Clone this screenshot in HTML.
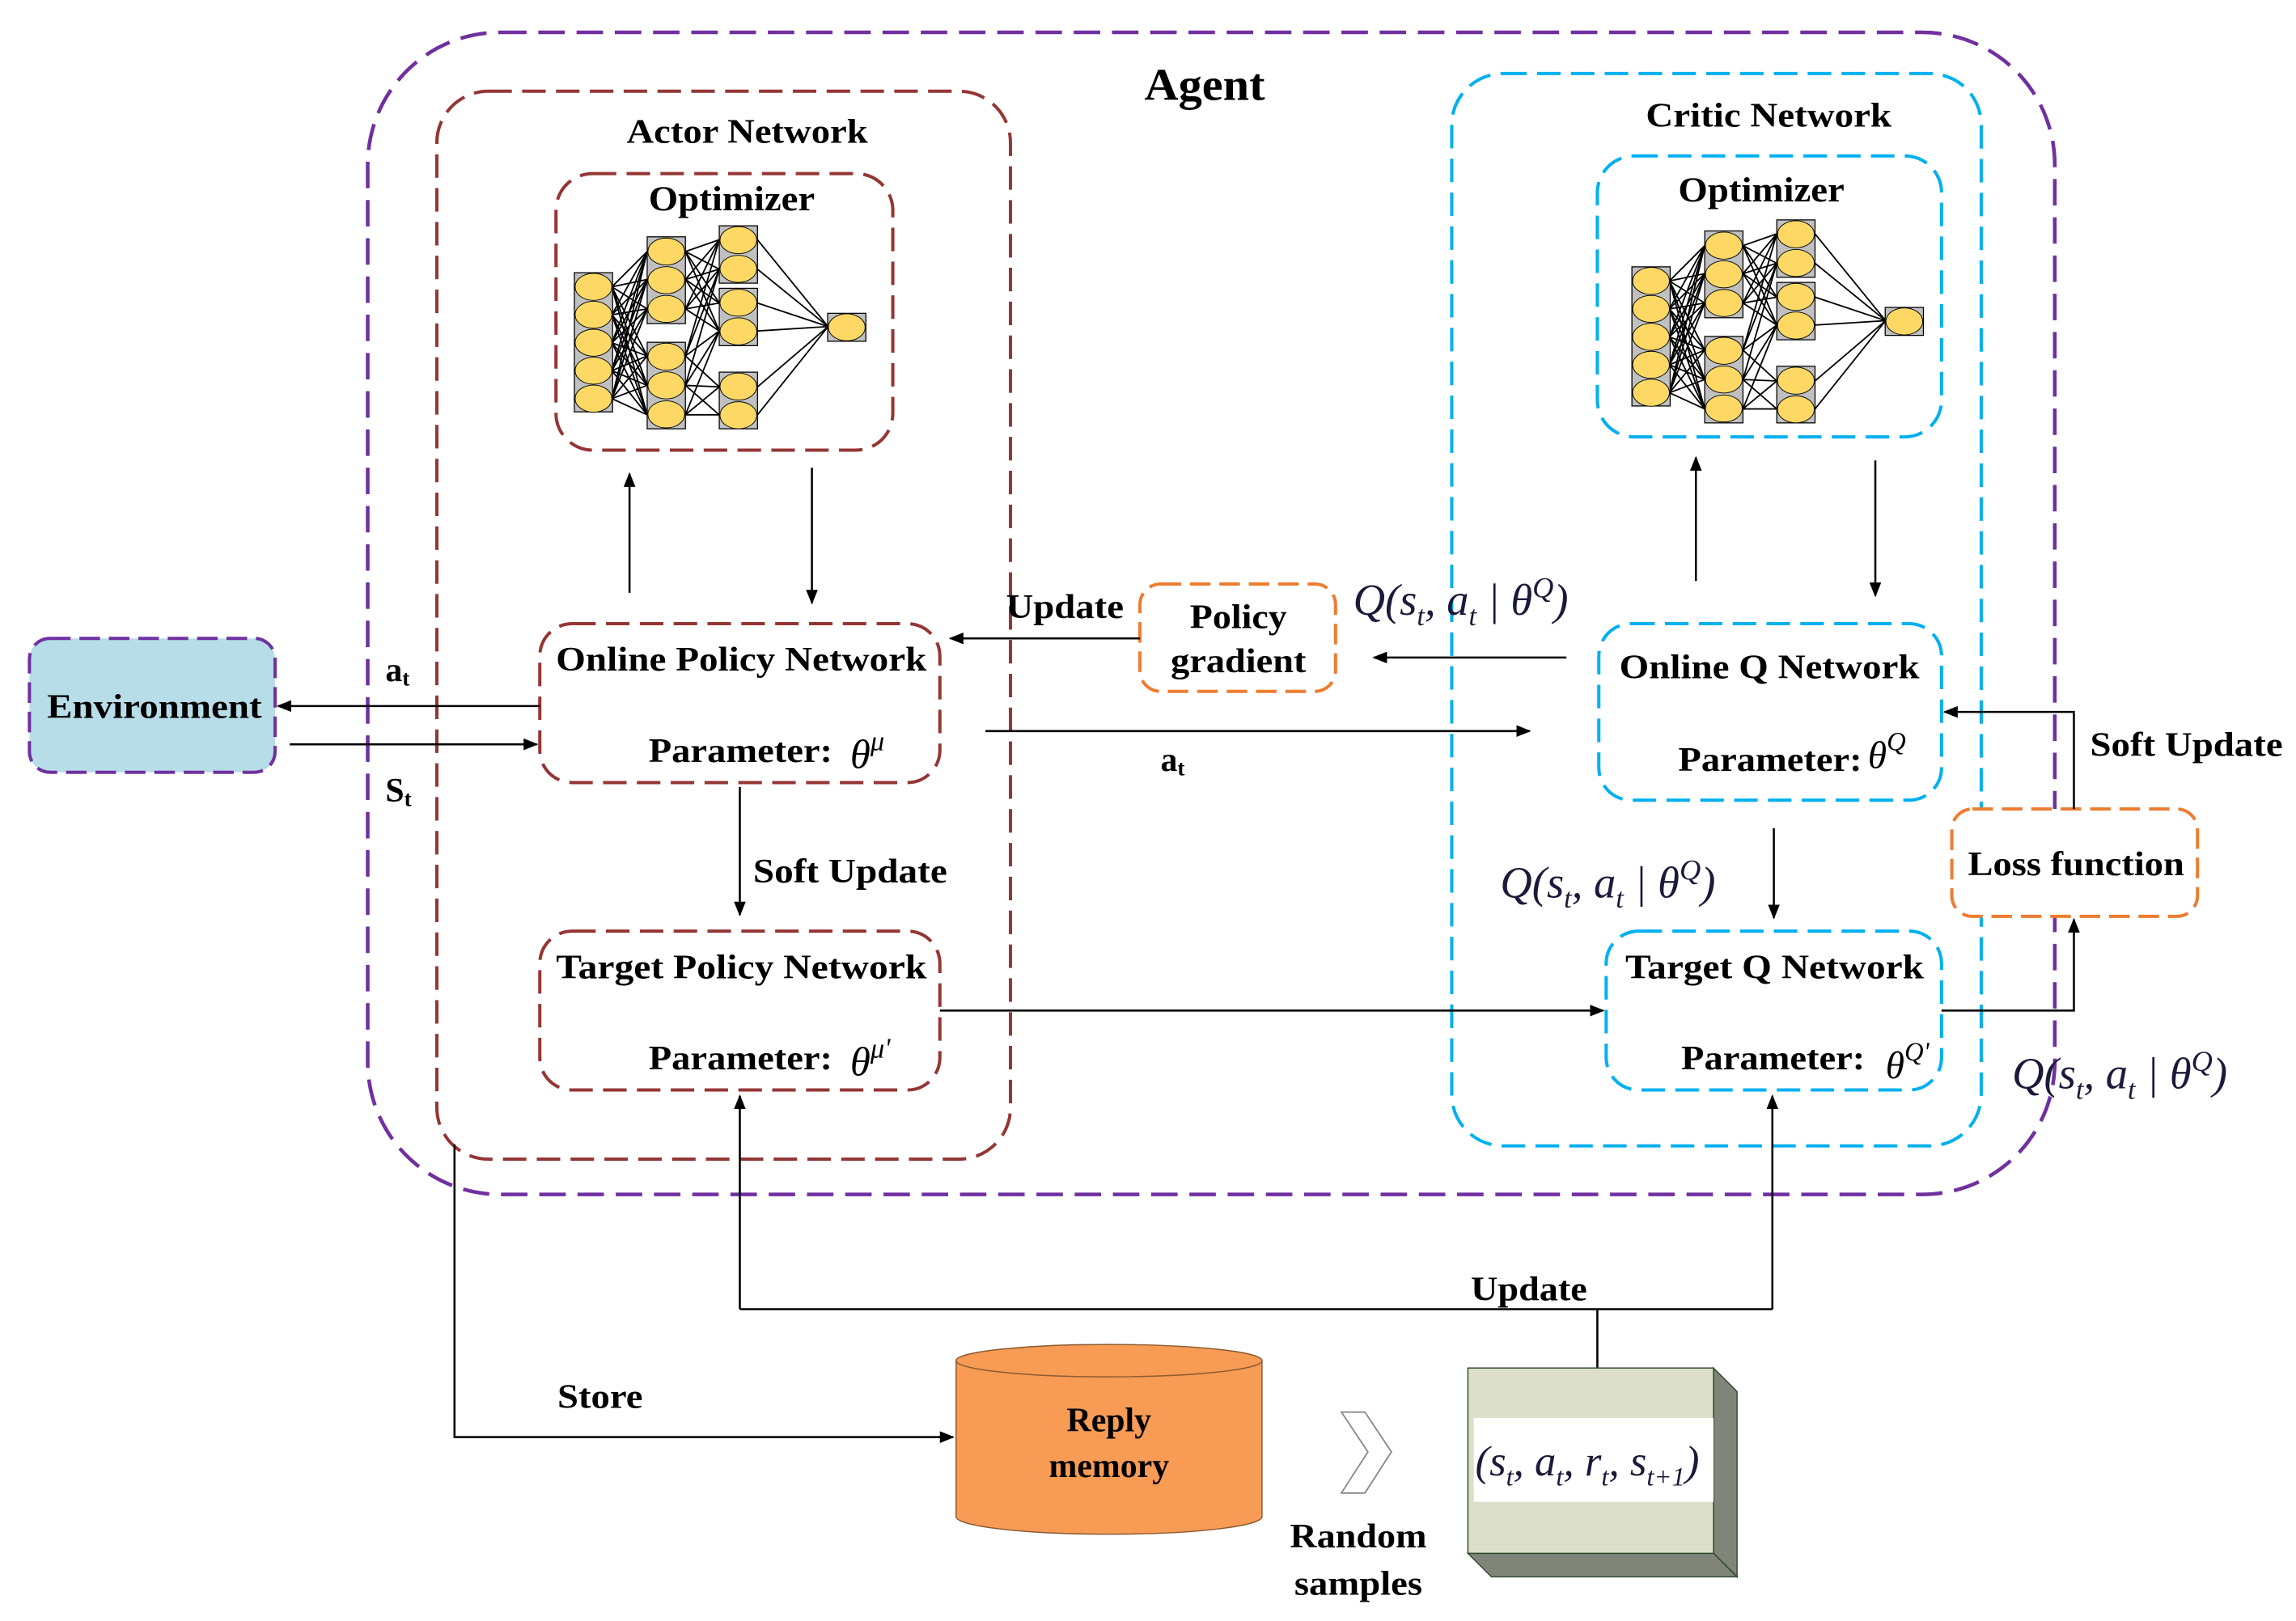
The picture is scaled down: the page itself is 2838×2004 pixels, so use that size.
<!DOCTYPE html>
<html><head><meta charset="utf-8"><style>html,body{margin:0;padding:0;background:#fff}svg{display:block}</style></head>
<body>
<svg width="2838" height="2004" viewBox="0 0 1561 1102" preserveAspectRatio="none" xmlns="http://www.w3.org/2000/svg" font-family="Liberation Serif, serif">
<defs>
<marker id="ar" markerWidth="10" markerHeight="10" refX="9" refY="5" orient="auto" markerUnits="userSpaceOnUse"><path d="M0,1 L10,5 L0,9 z" fill="#000"/></marker>
<g id="nn">
<g stroke="#000" stroke-width="1">
<path d="M416,195 L440,171 M416,195 L440,190 M416,195 L440,210 M416,195 L440,242 M416,195 L440,262 M416,195 L440,282
M416,214 L440,171 M416,214 L440,190 M416,214 L440,210 M416,214 L440,242 M416,214 L440,262 M416,214 L440,282
M416,233 L440,171 M416,233 L440,190 M416,233 L440,210 M416,233 L440,242 M416,233 L440,262 M416,233 L440,282
M416,252 L440,171 M416,252 L440,190 M416,252 L440,210 M416,252 L440,242 M416,252 L440,262 M416,252 L440,282
M416,271 L440,171 M416,271 L440,190 M416,271 L440,210 M416,271 L440,242 M416,271 L440,262 M416,271 L440,282
M466,171 L489,163 M466,171 L489,183 M466,171 L489,206 M466,171 L489,225
M466,190 L489,163 M466,190 L489,183 M466,190 L489,206 M466,190 L489,225
M466,210 L489,163 M466,210 L489,183 M466,210 L489,206 M466,210 L489,225
M466,242 L489,163 M466,242 L489,183 M466,242 L489,225 M466,242 L489,263
M466,262 L489,183 M466,262 L489,225 M466,262 L489,263 M466,262 L489,282
M466,282 L489,225 M466,282 L489,263 M466,282 L489,282
M515,163 L563,222 M515,183 L563,222 M515,206 L563,222 M515,225 L563,222 M515,263 L563,222 M515,282 L563,222"/>
</g>
<g fill="#c0c0c0" stroke="#000" stroke-width="0.7">
<rect x="390.5" y="185.4" width="26" height="94.6"/>
<rect x="440" y="161" width="26" height="59"/>
<rect x="440" y="232.7" width="26" height="58.8"/>
<rect x="489" y="153.5" width="26" height="39"/>
<rect x="489" y="196" width="26" height="39"/>
<rect x="489" y="253" width="26" height="38.5"/>
<rect x="562.7" y="213" width="26" height="19"/>
</g>
<g fill="#fdd865" stroke="#000" stroke-width="0.5">
<ellipse cx="403.5" cy="195" rx="12.5" ry="9.2"/><ellipse cx="403.5" cy="214" rx="12.5" ry="9.2"/><ellipse cx="403.5" cy="233" rx="12.5" ry="9.2"/><ellipse cx="403.5" cy="252" rx="12.5" ry="9.2"/><ellipse cx="403.5" cy="271" rx="12.5" ry="9.2"/>
<ellipse cx="453" cy="171" rx="12.5" ry="9.2"/><ellipse cx="453" cy="190.5" rx="12.5" ry="9.2"/><ellipse cx="453" cy="210" rx="12.5" ry="9.2"/>
<ellipse cx="453" cy="242.5" rx="12.5" ry="9.2"/><ellipse cx="453" cy="262" rx="12.5" ry="9.2"/><ellipse cx="453" cy="281.7" rx="12.5" ry="9.2"/>
<ellipse cx="502" cy="163.3" rx="12.5" ry="9.2"/><ellipse cx="502" cy="182.8" rx="12.5" ry="9.2"/>
<ellipse cx="502" cy="205.8" rx="12.5" ry="9.2"/><ellipse cx="502" cy="225.3" rx="12.5" ry="9.2"/>
<ellipse cx="502" cy="262.8" rx="12.5" ry="9.2"/><ellipse cx="502" cy="282.3" rx="12.5" ry="9.2"/>
<ellipse cx="575.7" cy="222.5" rx="12.5" ry="9.2"/>
</g>
</g>
</defs>

<rect x="250" y="22" width="1147" height="790" rx="90" fill="none" stroke="#7030a0" stroke-width="2.5" stroke-dasharray="18 8"/>
<text x="778" y="68" font-size="31" font-weight="bold" textLength="82" lengthAdjust="spacingAndGlyphs">Agent</text>

<rect x="297" y="62" width="390" height="726" rx="35" fill="none" stroke="#943634" stroke-width="2.2" stroke-dasharray="16 7"/>
<text x="426" y="97" font-size="23" font-weight="bold" textLength="164" lengthAdjust="spacingAndGlyphs">Actor Network</text>
<rect x="378" y="118" width="229" height="188" rx="25" fill="none" stroke="#943634" stroke-width="2.2" stroke-dasharray="16 7"/>
<text x="441" y="143" font-size="24" font-weight="bold" textLength="113" lengthAdjust="spacingAndGlyphs">Optimizer</text>
<use href="#nn"/>
<rect x="367" y="424" width="272" height="108" rx="22" fill="#fff" stroke="#943634" stroke-width="2.2" stroke-dasharray="16 7"/>
<text x="378" y="456" font-size="23" font-weight="bold" textLength="252" lengthAdjust="spacingAndGlyphs">Online Policy Network</text>
<text x="441" y="518" font-size="23" font-weight="bold" textLength="125" lengthAdjust="spacingAndGlyphs">Parameter:</text>
<text x="578" y="522" font-size="28" font-style="italic">θ<tspan font-size="19" dy="-12">μ</tspan></text>
<rect x="367" y="633" width="272" height="108" rx="22" fill="#fff" stroke="#943634" stroke-width="2.2" stroke-dasharray="16 7"/>
<text x="378" y="665" font-size="23" font-weight="bold" textLength="252" lengthAdjust="spacingAndGlyphs">Target Policy Network</text>
<text x="441" y="727" font-size="23" font-weight="bold" textLength="125" lengthAdjust="spacingAndGlyphs">Parameter:</text>
<text x="578" y="731" font-size="28" font-style="italic">θ<tspan font-size="19" dy="-12">μ'</tspan></text>

<rect x="987" y="50" width="360" height="729" rx="35" fill="none" stroke="#00b0f0" stroke-width="2.2" stroke-dasharray="16 7"/>
<text x="1119" y="86" font-size="23" font-weight="bold" textLength="167" lengthAdjust="spacingAndGlyphs">Critic Network</text>
<rect x="1086" y="106" width="234" height="191" rx="25" fill="none" stroke="#00b0f0" stroke-width="2.2" stroke-dasharray="16 7"/>
<text x="1141" y="137" font-size="24" font-weight="bold" textLength="113" lengthAdjust="spacingAndGlyphs">Optimizer</text>
<use href="#nn" transform="translate(719,-4)"/>
<rect x="1087" y="424" width="233" height="120" rx="22" fill="#fff" stroke="#00b0f0" stroke-width="2.2" stroke-dasharray="16 7"/>
<text x="1101" y="461" font-size="23" font-weight="bold" textLength="204" lengthAdjust="spacingAndGlyphs">Online Q Network</text>
<text x="1141" y="524" font-size="23" font-weight="bold" textLength="125" lengthAdjust="spacingAndGlyphs">Parameter:</text>
<text x="1270" y="522" font-size="26" font-style="italic">θ<tspan font-size="18" dy="-12">Q</tspan></text>
<rect x="1092" y="633" width="228" height="108" rx="22" fill="#fff" stroke="#00b0f0" stroke-width="2.2" stroke-dasharray="16 7"/>
<text x="1105" y="665" font-size="23" font-weight="bold" textLength="203" lengthAdjust="spacingAndGlyphs">Target Q Network</text>
<text x="1143" y="727" font-size="23" font-weight="bold" textLength="125" lengthAdjust="spacingAndGlyphs">Parameter:</text>
<text x="1282" y="733" font-size="26" font-style="italic">θ<tspan font-size="18" dy="-12">Q'</tspan></text>

<rect x="775" y="397" width="133" height="73" rx="14" fill="#fff" stroke="#ed7d31" stroke-width="2.2" stroke-dasharray="14 6"/>
<text x="809" y="427" font-size="23" font-weight="bold" textLength="66" lengthAdjust="spacingAndGlyphs">Policy</text>
<text x="796" y="457" font-size="23" font-weight="bold" textLength="92" lengthAdjust="spacingAndGlyphs">gradient</text>
<rect x="1327" y="550" width="167" height="73" rx="14" fill="#fff" stroke="#ed7d31" stroke-width="2.2" stroke-dasharray="14 6"/>
<text x="1338" y="595" font-size="23" font-weight="bold" textLength="147" lengthAdjust="spacingAndGlyphs">Loss function</text>

<rect x="20" y="434" width="167" height="91" rx="14" fill="#b7dde8" stroke="#7030a0" stroke-width="2.2" stroke-dasharray="14 6"/>
<text x="32" y="488" font-size="23" font-weight="bold" textLength="146" lengthAdjust="spacingAndGlyphs">Environment</text>

<g stroke="#000" stroke-width="1.4" fill="none">
<path d="M367,480 L189,480" marker-end="url(#ar)"/>
<path d="M197,506 L365,506" marker-end="url(#ar)"/>
<path d="M428,403 L428,322" marker-end="url(#ar)"/>
<path d="M552,318 L552,410" marker-end="url(#ar)"/>
<path d="M503,535 L503,622" marker-end="url(#ar)"/>
<path d="M775,434 L646,434" marker-end="url(#ar)"/>
<path d="M1065,447 L934,447" marker-end="url(#ar)"/>
<path d="M670,497 L1040,497" marker-end="url(#ar)"/>
<path d="M639,687 L1090,687" marker-end="url(#ar)"/>
<path d="M1153,395 L1153,311" marker-end="url(#ar)"/>
<path d="M1275,313 L1275,405" marker-end="url(#ar)"/>
<path d="M1206,563 L1206,624" marker-end="url(#ar)"/>
<path d="M1320,687 L1410,687 L1410,625" marker-end="url(#ar)"/>
<path d="M1410,550 L1410,484 L1322,484" marker-end="url(#ar)"/>
<path d="M309,778 L309,977 L648,977" marker-end="url(#ar)"/>
<path d="M1086,930 L1086,890"/>
<path d="M503,890 L1205,890"/>
<path d="M503,890 L503,745" marker-end="url(#ar)"/>
<path d="M1205,890 L1205,745" marker-end="url(#ar)"/>
</g>

<g font-size="23" font-weight="bold">
<text x="262" y="463">a<tspan font-size="15" dy="3">t</tspan></text>
<text x="262" y="545">S<tspan font-size="15" dy="3">t</tspan></text>
<text x="789" y="524">a<tspan font-size="15" dy="3">t</tspan></text>
<text x="684" y="420" textLength="80" lengthAdjust="spacingAndGlyphs">Update</text>
<text x="512" y="600" textLength="132" lengthAdjust="spacingAndGlyphs">Soft Update</text>
<text x="1421" y="514" textLength="131" lengthAdjust="spacingAndGlyphs">Soft Update</text>
<text x="379" y="957" textLength="58" lengthAdjust="spacingAndGlyphs">Store</text>
<text x="1000" y="884" textLength="79" lengthAdjust="spacingAndGlyphs">Update</text>
<text x="877" y="1052" textLength="93" lengthAdjust="spacingAndGlyphs">Random</text>
<text x="880" y="1084" textLength="87" lengthAdjust="spacingAndGlyphs">samples</text>
</g>

<g font-style="italic" font-size="30" fill="#1a1a3a">
<text x="920" y="418">Q(s<tspan font-size="19" dy="7">t</tspan><tspan dy="-7">, a</tspan><tspan font-size="19" dy="7">t</tspan><tspan dy="-7"> | θ</tspan><tspan font-size="20" dy="-12">Q</tspan><tspan dy="12">)</tspan></text>
<text x="1020" y="610">Q(s<tspan font-size="19" dy="7">t</tspan><tspan dy="-7">, a</tspan><tspan font-size="19" dy="7">t</tspan><tspan dy="-7"> | θ</tspan><tspan font-size="20" dy="-12">Q</tspan><tspan dy="12">)</tspan></text>
<text x="1368" y="740">Q(s<tspan font-size="19" dy="7">t</tspan><tspan dy="-7">, a</tspan><tspan font-size="19" dy="7">t</tspan><tspan dy="-7"> | θ</tspan><tspan font-size="20" dy="-12">Q</tspan><tspan dy="12">)</tspan></text>
</g>

<path d="M650,925 L650,1031 A104,12 0 0 0 858,1031 L858,925" fill="#f79b55" stroke="#8a5a30" stroke-width="0.8"/>
<ellipse cx="754" cy="925" rx="104" ry="11" fill="#f79b55" stroke="#8a5a30" stroke-width="0.8"/>
<text x="754" y="973" font-size="23" font-weight="bold" text-anchor="middle">Reply</text>
<text x="754" y="1004" font-size="23" font-weight="bold" text-anchor="middle">memory</text>

<path d="M912,960 L928,960 L946,987 L928,1015 L912,1015 L930,987 Z" fill="#fff" stroke="#888" stroke-width="1"/>

<path d="M1165,930 L1181,946 L1181,1072 L1165,1056 Z" fill="#80857a" stroke="#2d4a2d" stroke-width="0.8"/>
<path d="M998,1056 L1165,1056 L1181,1072 L1014,1072 Z" fill="#80857a" stroke="#2d4a2d" stroke-width="0.8"/>
<rect x="998" y="930" width="167" height="126" fill="#dce0ca" stroke="#2d4a2d" stroke-width="0.8"/>
<rect x="1002" y="964" width="163" height="57" fill="#fff"/>
<text x="1003" y="1003" font-size="29" font-style="italic" fill="#1a1a3a">(s<tspan font-size="18" dy="7">t</tspan><tspan dy="-7">, a</tspan><tspan font-size="18" dy="7">t</tspan><tspan dy="-7">, r</tspan><tspan font-size="18" dy="7">t</tspan><tspan dy="-7">, s</tspan><tspan font-size="18" dy="7">t+1</tspan><tspan dy="-7">)</tspan></text>
</svg>
</body></html>
